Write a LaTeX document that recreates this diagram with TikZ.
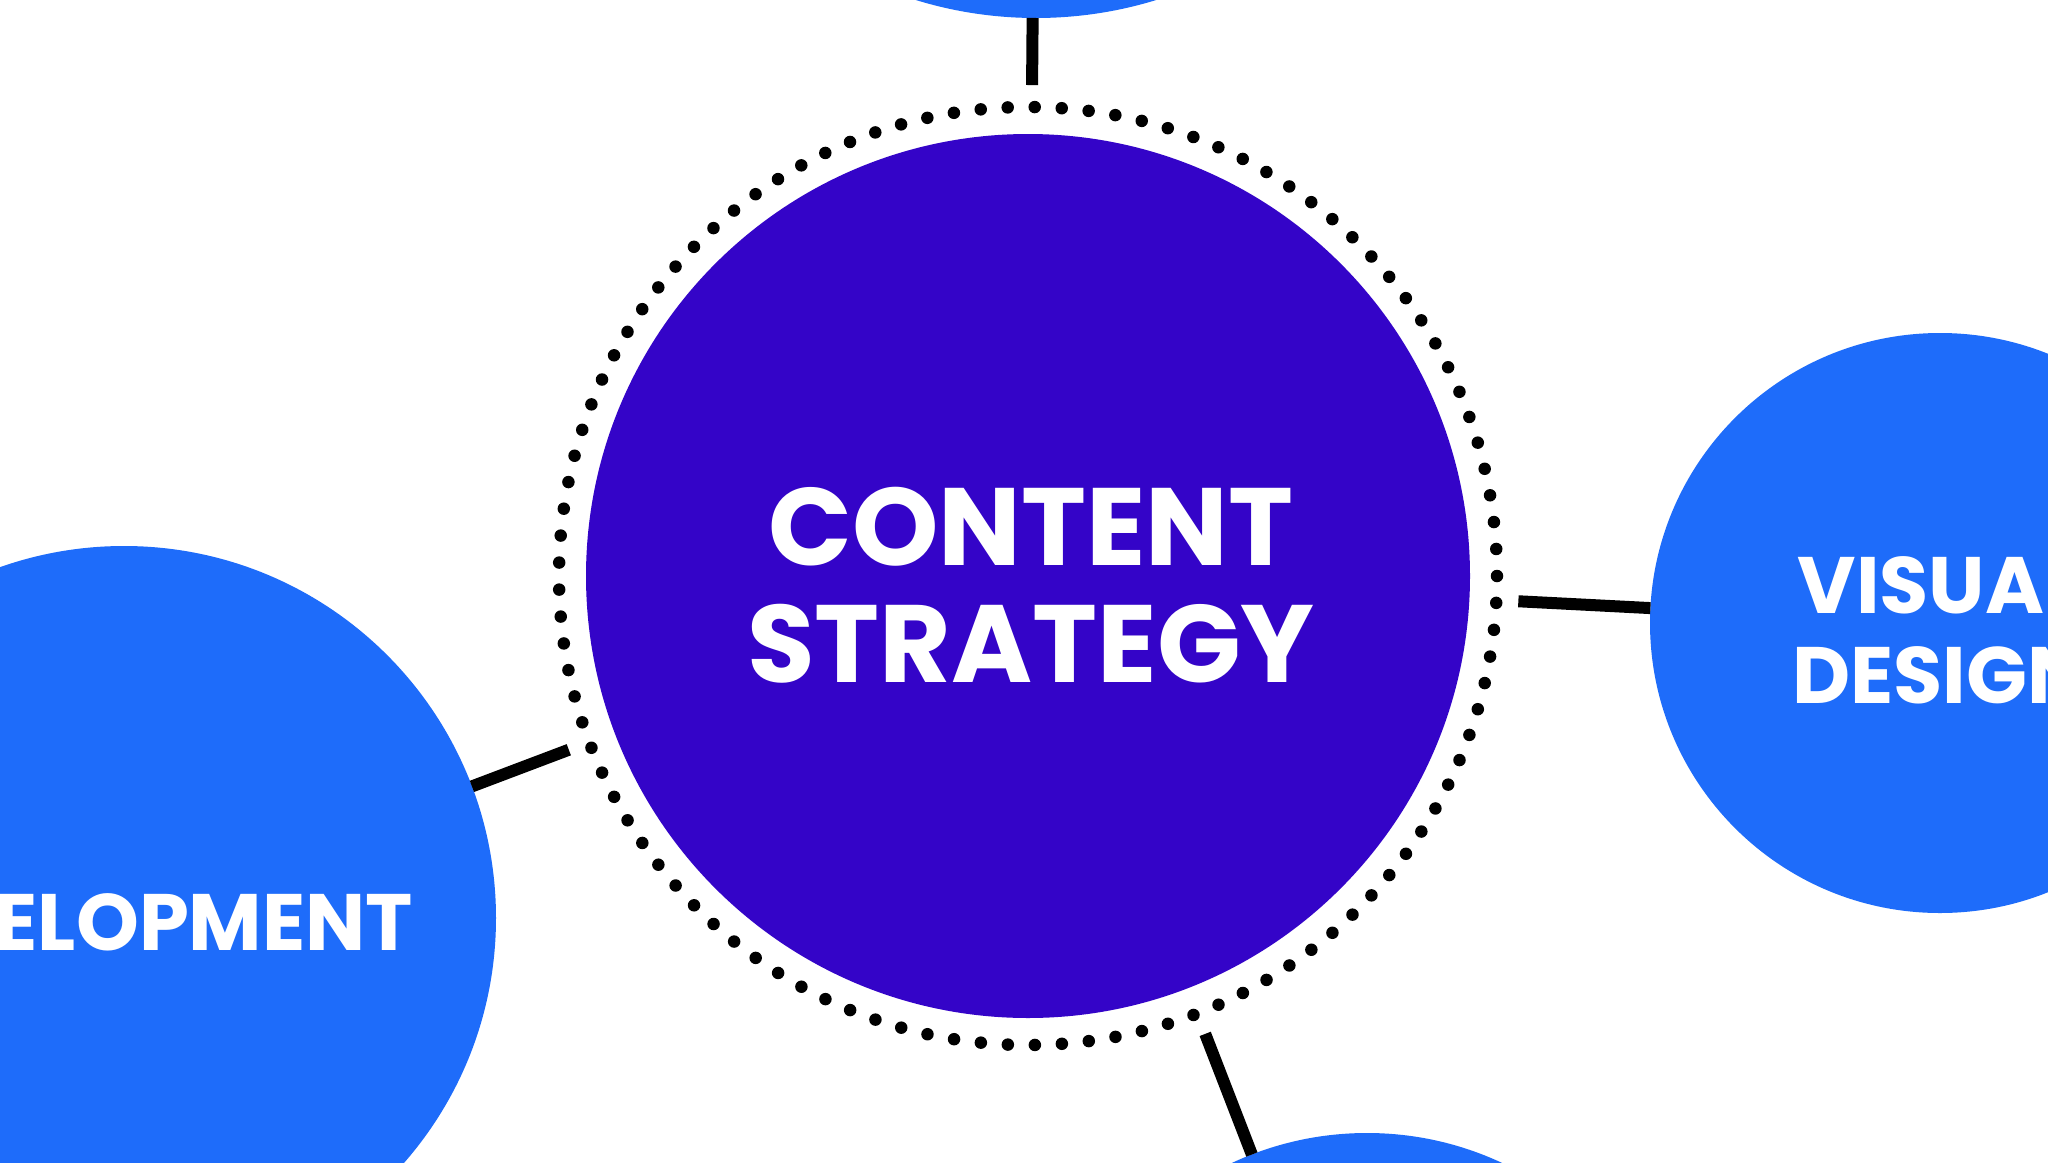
\documentclass[tikz,border=0pt]{standalone}
\usepackage{fontspec}
\setmainfont{Poppins}
\definecolor{coreviolet}{RGB}{52,4,200}
\definecolor{satblue}{RGB}{30,108,250}
\tikzset{
  bubble/.style={circle, fill=satblue, draw=none, inner sep=0pt, outer sep=0pt},
  corebubble/.style={circle, fill=coreviolet, draw=none, inner sep=0pt, outer sep=49pt, minimum size=884pt},
  dotring/.style={draw=black, line width=12.5pt, line cap=round, dash pattern=on 0pt off 27.04pt},
  conn/.style={draw=black, line width=12pt},
  bigtxt/.style={text=white, font=\fontsize{110}{117}\selectfont\bfseries, inner sep=0pt, anchor=base},
  smalltxt/.style={text=white, font=\fontsize{80}{90}\selectfont\bfseries, inner sep=0pt, anchor=base}
}
\begin{document}
\begin{tikzpicture}[x=1pt, y=-1pt]
\useasboundingbox (0,0) rectangle (2048,1162);
\clip (0,0) rectangle (2048,1162);
\fill[white] (0,0) rectangle (2048,1162);
% outer bubbles
\node[bubble, minimum size=816pt] (tp) at (1036,-390) {};
\node[bubble, minimum size=580pt] (vd) at (1940,623) {};
\node[bubble, minimum size=744pt] (dv) at (124,918) {};
\node[bubble, minimum size=638pt] (bt) at (1367,1452) {};
% core
\node[corebubble] (cs) at (1028,576) {};
\draw[dotring] (cs.center) circle (469pt);
% connectors
\draw[conn] (cs) -- (tp);
\draw[conn] (cs) -- (vd);
\draw[conn] (cs) -- (dv);
\draw[conn] (cs) -- (bt);
% texts
\node[bigtxt] (cst1) at (1031,565) {CONTENT};
\node[bigtxt] (cst2) at (1031,682) {STRATEGY};
\node[smalltxt] (vdt1) at (1940,613) {VISUAL};
\node[smalltxt] (vdt2) at (1940,703) {DESIGN};
\node[smalltxt] (dvt1) at (124,950) {DEVELOPMENT};
\end{tikzpicture}
\end{document}
